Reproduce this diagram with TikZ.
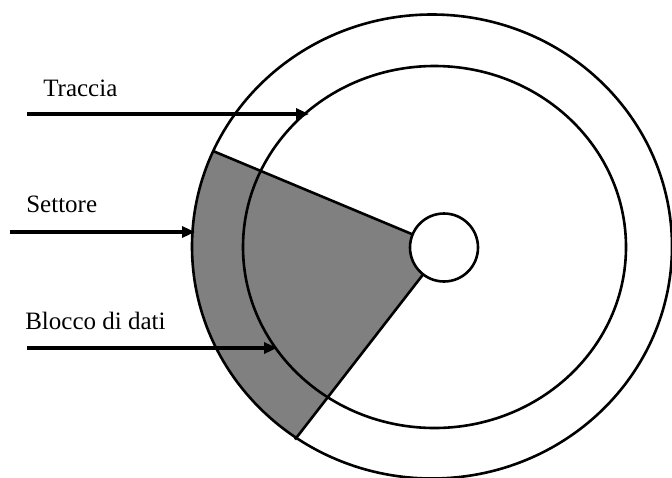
\documentclass[tikz,border=0pt]{standalone}
\usepackage{fontspec}
\setmainfont{Liberation Serif}
\usetikzlibrary{arrows.meta}

\tikzset{
  disklabel/.style={anchor=base west, inner sep=0pt, font=\fontsize{25}{30}\selectfont},
  pointer/.style={line width=4pt, -{Triangle[length=13pt,width=11pt]}},
}

\begin{document}
\begin{tikzpicture}[x=1pt, y=-1pt, line width=2.6pt]
    \useasboundingbox (0,0) rectangle (672,477);
    % centre of the hub and the two sector corners on the rim
    \coordinate (hub) at (444,247.5);
    \coordinate (sect-top) at (213,151);
    \coordinate (sect-bot) at (295,439.5);
    % shaded sector
    \begin{scope}
        \clip (432,246.5) ellipse [x radius=240pt, y radius=232pt];
        \fill[gray] (hub) -- (193,142.5) -- (150,142.5) -- (150,456) -- (282,456) -- cycle;
    \end{scope}
    \draw (432,246.5) ellipse [x radius=240pt, y radius=232pt];
    \draw (434.5,247) ellipse [x radius=191.5pt, y radius=181pt];
    \draw (hub) -- (sect-top);
    \draw (hub) -- (sect-bot);
    \draw[fill=white] (hub) circle [radius=34pt];
    % labels and pointers
    \node[disklabel] (traccia) at (42,96) {Traccia};
    \node[disklabel] (settore) at (25,212) {Settore};
    \node[disklabel] (blocco) at (24,329) {Blocco di dati};
    \coordinate (traccia-from) at (27,114);
    \coordinate (traccia-to) at (309,114);
    \coordinate (settore-from) at (10,232);
    \coordinate (settore-to) at (195,232);
    \coordinate (blocco-from) at (27,348);
    \coordinate (blocco-to) at (277,348);
    \draw[pointer] (traccia-from) -- (traccia-to);
    \draw[pointer] (settore-from) -- (settore-to);
    \draw[pointer] (blocco-from) -- (blocco-to);
\end{tikzpicture}
\end{document}
